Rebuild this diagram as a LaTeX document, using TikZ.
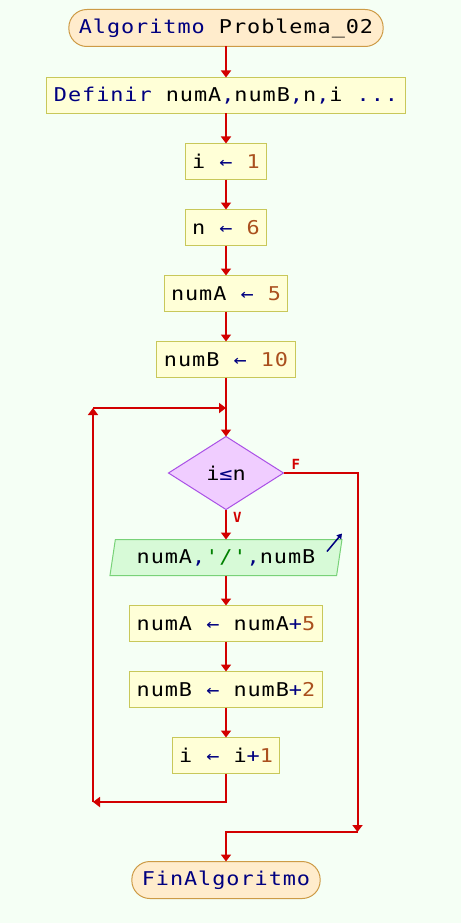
\documentclass[tikz,border=0pt]{standalone}
\usepackage{fontspec}
\setmainfont{DejaVu Sans Mono}[FakeStretch=1.15,LetterSpace=5,Ligatures=TeXOff]
\newfontfamily\etiquetafont{DejaVu Sans Mono}
\usepackage{tikz}
\usetikzlibrary{arrows.meta,positioning,shapes.geometric}

\definecolor{fondo}{RGB}{245,255,245}
\definecolor{flecha}{RGB}{210,0,0}
\definecolor{termfill}{RGB}{255,236,204}
\definecolor{termdraw}{RGB}{205,155,70}
\definecolor{procfill}{RGB}{255,255,215}
\definecolor{procdraw}{RGB}{200,200,90}
\definecolor{condfill}{RGB}{240,205,255}
\definecolor{conddraw}{RGB}{170,80,230}
\definecolor{iofill}{RGB}{215,250,215}
\definecolor{iodraw}{RGB}{120,210,120}
\definecolor{clavecol}{RGB}{0,0,128}
\definecolor{numcol}{RGB}{170,80,30}
\definecolor{cadcol}{RGB}{0,128,0}

\newcommand{\clave}[1]{\textcolor{clavecol}{#1}}
\newcommand{\numero}[1]{\textcolor{numcol}{#1}}
\newcommand{\cadena}[1]{\textcolor{cadcol}{#1}}

\begin{document}
\begin{tikzpicture}[
    x=1pt, y=-1pt,
    font=\fontsize{19pt}{22pt}\selectfont,
    node distance=30pt,
    proc/.style={
        rectangle,
        draw=procdraw,
        fill=procfill,
        minimum height=36pt,
        inner xsep=7pt,
        inner ysep=0pt,
        outer sep=0pt,
        line width=1pt
    },
    term/.style={proc, rounded corners=18pt, draw=termdraw, fill=termfill,
        minimum height=37pt, inner xsep=10pt},
    cond/.style={diamond, draw=conddraw, fill=condfill, aspect=1.575,
        minimum width=115pt, minimum height=73pt, inner sep=0pt, outer sep=0pt,
        line width=1pt},
    io/.style={trapezium, trapezium left angle=72, trapezium right angle=108,
        trapezium stretches body, draw=iodraw, fill=iofill,
        minimum width=232pt, minimum height=36pt, inner sep=0pt, outer sep=0pt,
        line width=1pt},
    arrow/.style={-{Triangle[width=10pt,length=7pt]}, draw=flecha, line width=2pt},
    etiqueta/.style={text=flecha, font=\etiquetafont\bfseries\fontsize{14pt}{15pt}\selectfont, inner sep=0pt},
    salida/.style={-{Triangle[width=6pt,length=5pt]}, draw=clavecol, line width=1.5pt}
]

    % --- BACKGROUND ---
    \fill[fondo] (0,0) rectangle (461,923);
    \useasboundingbox (0,0) rectangle (461,923);

    % --- MAIN COLUMN ---
    \node[term] (inicio) at (226,28) {\clave{Algoritmo} Problema\_02};
    \node[proc, below=31pt of inicio] (definir)
        {\clave{Definir} numA\clave{,}numB\clave{,}n\clave{,}i \clave{...}};
    \node[proc, below=of definir] (asigI) {i \clave{←} \numero{1}};
    \node[proc, below=of asigI] (asigN) {n \clave{←} \numero{6}};
    \node[proc, below=of asigN] (asigA) {numA \clave{←} \numero{5}};
    \node[proc, below=of asigA] (asigB) {numB \clave{←} \numero{10}};

    % --- LOOP ---
    \node[cond, below=59pt of asigB] (mientras) {i\clave{≤}n};
    \node[io, below=of mientras] (escribir)
        {numA\clave{,}\cadena{'/'}\clave{,}numB};
    \node[proc, below=of escribir] (incA) {numA \clave{←} numA\clave{+}\numero{5}};
    \node[proc, below=of incA] (incB) {numB \clave{←} numB\clave{+}\numero{2}};
    \node[proc, below=of incB] (incI) {i \clave{←} i\clave{+}\numero{1}};

    % --- END ---
    \node[term, below=88pt of incI] (fin) {\clave{FinAlgoritmo}};

    % labels of the condition
    \node[etiqueta, above right=3pt and 8pt of mientras.east] (lblF) {F};
    \node[etiqueta, below right=3pt and 7pt of mientras.south] (lblV) {V};

    % helper points
    \coordinate[below=28.5pt of incI.south] (lazoA);
    \coordinate[left=133pt of lazoA] (lazoB);
    \coordinate[above=394pt of lazoB] (lazoC);
    \coordinate (lazoD) at (lazoC -| mientras.north);
    \coordinate[right=74pt of mientras.east] (salF);
    \coordinate[below=359pt of salF] (salB);

    % --- CONNECTIONS ---
    \draw[arrow] (inicio.south) -- (definir.north);
    \draw[arrow] (definir.south) -- (asigI.north);
    \draw[arrow] (asigI.south) -- (asigN.north);
    \draw[arrow] (asigN.south) -- (asigA.north);
    \draw[arrow] (asigA.south) -- (asigB.north);
    \draw[arrow] (asigB.south) -- (mientras.north);
    \draw[arrow] (mientras.south) -- (escribir.north);
    \draw[arrow] (escribir.south) -- (incA.north);
    \draw[arrow] (incA.south) -- (incB.north);
    \draw[arrow] (incB.south) -- (incI.north);

    % loop back
    \draw[arrow] (incI.south) -- (lazoA) -- (lazoB);
    \draw[arrow] (lazoB) -- (lazoC);
    \draw[arrow] (lazoC) -- (lazoD);

    % exit
    \draw[arrow] (mientras.east) -- (salF) -- (salB);
    \draw[arrow] (salB) -| (fin.north);

    % output mark
    \draw[salida] ([xshift=-15pt,yshift=-12pt]escribir.top right corner)
        -- ([xshift=0pt,yshift=6pt]escribir.top right corner);

\end{tikzpicture}
\end{document}
